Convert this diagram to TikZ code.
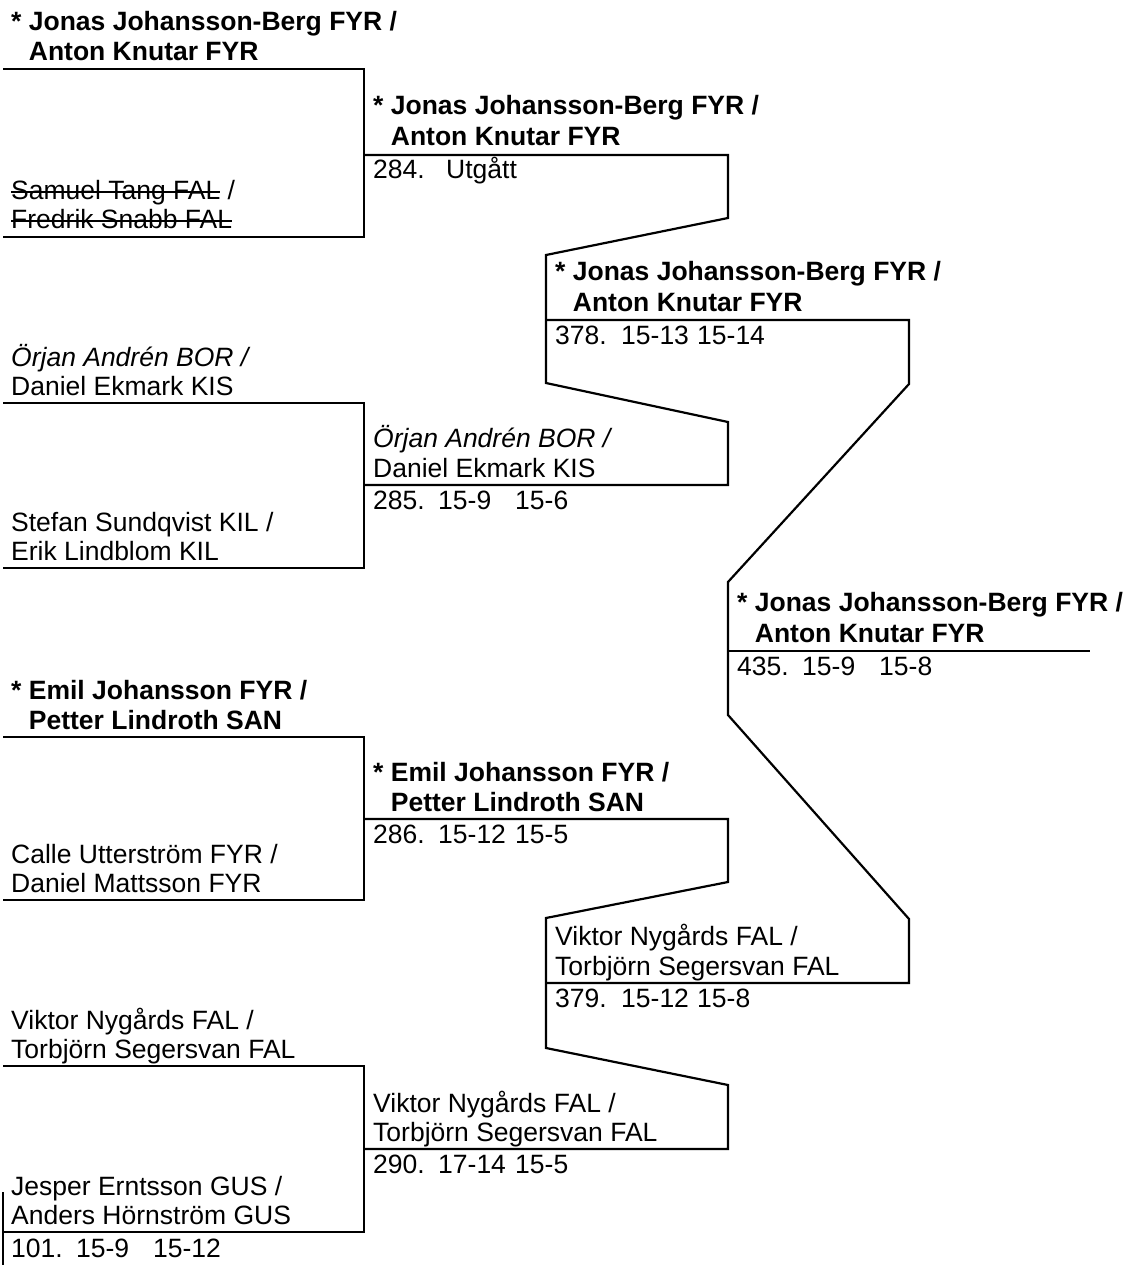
\documentclass[tikz,border=0pt]{standalone}
\usepackage{fontspec}
\setmainfont{Liberation Sans}
\newcommand\xstrike[1]{\setbox0\hbox{#1}\rlap{\rule[0.28em]{\wd0}{1.8pt}}\box0\relax}
\begin{document}
\begin{tikzpicture}[x=1pt,y=-1pt,
  every node/.style={anchor=base west, inner sep=0pt, font=\fontsize{26.5}{30}\selectfont},
  bk/.style={line width=2.2pt, line join=miter}]
\useasboundingbox (0,0) rectangle (1129,1265);
% ---------- bracket lines ----------
% round 1
\draw[bk] (3,69) -- (364,69) -- (364,237) -- (3,237);
\draw[bk] (3,403) -- (364,403) -- (364,568) -- (3,568);
\draw[bk] (3,737) -- (364,737) -- (364,900) -- (3,900);
\draw[bk] (3,1066) -- (364,1066) -- (364,1232) -- (3,1232);
\draw[bk] (3,1192) -- (3,1265);
% round 2
\draw[bk] (364,155) -- (728,155) -- (728,218) -- (546,255) -- (546,383) -- (728,422) -- (728,485) -- (364,485);
\draw[bk] (364,819) -- (728,819) -- (728,882) -- (546,918) -- (546,1048) -- (728,1085) -- (728,1149) -- (364,1149);
% round 3
\draw[bk] (546,320) -- (909,320) -- (909,384) -- (728,582) -- (728,715) -- (909,919) -- (909,983) -- (546,983);
% final
\draw[bk] (728,651) -- (1090,651);
% ---------- column 1 ----------
\node (a1) at (11,31) {\bfseries * Jonas Johansson-Berg FYR /};
\node (a2) at (11,61) {\bfseries\hphantom{*\ }Anton Knutar FYR};
\node (b1) at (11,200) {\xstrike{Samuel Tang FAL} /};
\node (b2) at (11,229) {\xstrike{Fredrik Snabb FAL}};
\node (c1) at (11,366) {\itshape Örjan Andrén BOR /};
\node (c2) at (11,395) {Daniel Ekmark KIS};
\node (d1) at (11,531) {Stefan Sundqvist KIL /};
\node (d2) at (11,560) {Erik Lindblom KIL};
\node (e1) at (11,699) {\bfseries * Emil Johansson FYR /};
\node (e2) at (11,729) {\bfseries\hphantom{*\ }Petter Lindroth SAN};
\node (f1) at (11,863) {Calle Utterström FYR /};
\node (f2) at (11,892) {Daniel Mattsson FYR};
\node (g1) at (11,1029) {Viktor Nygårds FAL /};
\node (g2) at (11,1058) {Torbjörn Segersvan FAL};
\node (h1) at (11,1195) {Jesper Erntsson GUS /};
\node (h2) at (11,1224) {Anders Hörnström GUS};
\node (s101) at (11,1257) {101.};
\node (s101a) at (76,1257) {15-9};
\node (s101b) at (153,1257) {15-12};
% ---------- column 2 ----------
\node (i1) at (373,115) {\bfseries * Jonas Johansson-Berg FYR /};
\node (i2) at (373,146) {\bfseries\hphantom{*\ }Anton Knutar FYR};
\node (s284) at (373,179) {284.};
\node (s284a) at (446,179) {Utgått};
\node (j1) at (373,447) {\itshape Örjan Andrén BOR /};
\node (j2) at (373,477) {Daniel Ekmark KIS};
\node (s285) at (373,509) {285.};
\node (s285a) at (438,509) {15-9};
\node (s285b) at (515,509) {15-6};
\node (k1) at (373,781) {\bfseries * Emil Johansson FYR /};
\node (k2) at (373,811) {\bfseries\hphantom{*\ }Petter Lindroth SAN};
\node (s286) at (373,843) {286.};
\node (s286a) at (438,843) {15-12};
\node (s286b) at (515,843) {15-5};
\node (l1) at (373,1112) {Viktor Nygårds FAL /};
\node (l2) at (373,1141) {Torbjörn Segersvan FAL};
\node (s290) at (373,1173) {290.};
\node (s290a) at (438,1173) {17-14};
\node (s290b) at (515,1173) {15-5};
% ---------- column 3 ----------
\node (m1) at (555,280) {\bfseries * Jonas Johansson-Berg FYR /};
\node (m2) at (555,311) {\bfseries\hphantom{*\ }Anton Knutar FYR};
\node (s378) at (555,344) {378.};
\node (s378a) at (621,344) {15-13};
\node (s378b) at (697,344) {15-14};
\node (n1) at (555,945) {Viktor Nygårds FAL /};
\node (n2) at (555,975) {Torbjörn Segersvan FAL};
\node (s379) at (555,1007) {379.};
\node (s379a) at (621,1007) {15-12};
\node (s379b) at (697,1007) {15-8};
% ---------- column 4 ----------
\node (o1) at (737,611) {\bfseries * Jonas Johansson-Berg FYR /};
\node (o2) at (737,642) {\bfseries\hphantom{*\ }Anton Knutar FYR};
\node (s435) at (737,675) {435.};
\node (s435a) at (802,675) {15-9};
\node (s435b) at (879,675) {15-8};
\end{tikzpicture}
\end{document}
